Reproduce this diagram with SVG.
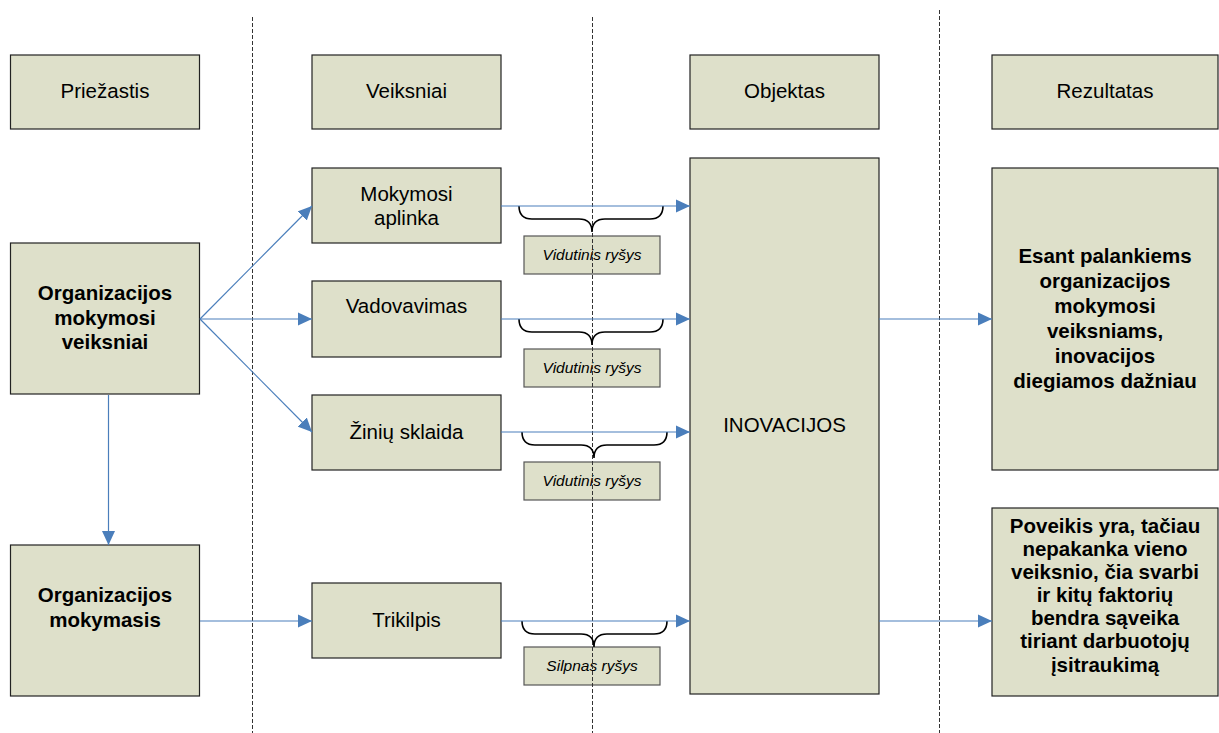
<svg xmlns="http://www.w3.org/2000/svg" width="1219" height="733" viewBox="0 0 1219 733">
  <style>
    .box { fill: #dee0ca; stroke: #222; stroke-width: 1.2; }
    .tag { fill: #dee0ca; stroke: #555; stroke-width: 1.2; }
    .t { font-family: "Liberation Sans", Arial, sans-serif; font-size: 20.5px; fill: #000; text-anchor: middle; }
    .b { font-weight: bold; font-size: 20.5px; }
    .i { font-style: italic; font-size: 15.5px; }
    .div { stroke: #333; stroke-width: 1; stroke-dasharray: 4 2; fill: none; }
    .conn { stroke: #4a7ebb; stroke-width: 1.2; fill: none; marker-end: url(#head); }
    .brace { stroke: #000; stroke-width: 1.6; fill: none; }
  </style>
  <defs>
    <marker id="head" markerUnits="userSpaceOnUse" markerWidth="14" markerHeight="14" viewBox="0 0 14 14" refX="14" refY="7" orient="auto">
      <path d="M0,0.5 L14,7 L0,13.5 Z" fill="#4a7ebb"/>
    </marker>
  </defs>
  <rect width="1219" height="733" fill="#fff"/>

  <!-- column headers -->
  <g id="hdr-priezastis"><rect class="box" x="10.5" y="55" width="189" height="74"/><text class="t" x="105" y="98">Priežastis</text></g>
  <g id="hdr-veiksniai"><rect class="box" x="312" y="55" width="189" height="74"/><text class="t" x="406.5" y="98">Veiksniai</text></g>
  <g id="hdr-objektas"><rect class="box" x="690" y="55" width="189" height="74"/><text class="t" x="784.5" y="98">Objektas</text></g>
  <g id="hdr-rezultatas"><rect class="box" x="992" y="55" width="226" height="74"/><text class="t" x="1105" y="98">Rezultatas</text></g>

  <!-- causes -->
  <g id="org-veiksniai"><rect class="box" x="10.5" y="243" width="189" height="151"/>
    <text class="t b" x="105" y="300">Organizacijos</text>
    <text class="t b" x="105" y="324.5">mokymosi</text>
    <text class="t b" x="105" y="348.5">veiksniai</text></g>
  <g id="org-mokymasis"><rect class="box" x="10.5" y="545" width="189" height="151"/>
    <text class="t b" x="105" y="602">Organizacijos</text>
    <text class="t b" x="105" y="627">mokymasis</text></g>

  <!-- factors -->
  <g id="mokymosi-aplinka"><rect class="box" x="312" y="168" width="189" height="75"/>
    <text class="t" x="406.5" y="201">Mokymosi</text>
    <text class="t" x="406.5" y="225">aplinka</text></g>
  <g id="vadovavimas"><rect class="box" x="312" y="281" width="189" height="76"/>
    <text class="t" x="406.5" y="313">Vadovavimas</text></g>
  <g id="ziniu-sklaida"><rect class="box" x="312" y="395" width="189" height="75"/>
    <text class="t" x="406.5" y="439">Žinių sklaida</text></g>
  <g id="trikilpis"><rect class="box" x="312" y="583" width="189" height="75"/>
    <text class="t" x="406.5" y="627">Trikilpis</text></g>

  <!-- object -->
  <g id="inovacijos"><rect class="box" x="690" y="158" width="189" height="536"/>
    <text class="t" x="784.5" y="432">INOVACIJOS</text></g>

  <!-- results -->
  <g id="rez-esant"><rect class="box" x="992" y="168" width="226" height="302"/>
    <text class="t b" x="1105" y="263">Esant palankiems</text>
    <text class="t b" x="1105" y="288">organizacijos</text>
    <text class="t b" x="1105" y="313">mokymosi</text>
    <text class="t b" x="1105" y="338">veiksniams,</text>
    <text class="t b" x="1105" y="363">inovacijos</text>
    <text class="t b" x="1105" y="388">diegiamos dažniau</text></g>
  <g id="rez-poveikis"><rect class="box" x="992" y="508" width="226" height="188"/>
    <text class="t b" x="1105" y="532.5">Poveikis yra, tačiau</text>
    <text class="t b" x="1105" y="556">nepakanka vieno</text>
    <text class="t b" x="1105" y="579">veiksnio, čia svarbi</text>
    <text class="t b" x="1105" y="602">ir kitų faktorių</text>
    <text class="t b" x="1105" y="625">bendra sąveika</text>
    <text class="t b" x="1105" y="648">tiriant darbuotojų</text>
    <text class="t b" x="1105" y="671.5">įsitraukimą</text></g>

  <!-- relationship strength tags -->
  <g id="rysys-1"><rect class="tag" x="524" y="236" width="136" height="38"/><text class="t i" x="592" y="260">Vidutinis ryšys</text></g>
  <g id="rysys-2"><rect class="tag" x="524" y="349" width="136" height="38"/><text class="t i" x="592" y="373">Vidutinis ryšys</text></g>
  <g id="rysys-3"><rect class="tag" x="524" y="462" width="136" height="38"/><text class="t i" x="592" y="486">Vidutinis ryšys</text></g>
  <g id="rysys-4"><rect class="tag" x="524" y="647" width="136" height="38"/><text class="t i" x="592" y="671">Silpnas ryšys</text></g>

  <!-- column dividers -->
  <g id="dividers">
    <line class="div" x1="252.5" y1="17" x2="252.5" y2="733"/>
    <line class="div" x1="592.5" y1="17" x2="592.5" y2="733"/>
    <line class="div" x1="939.5" y1="10" x2="939.5" y2="733"/>
  </g>

  <!-- braces under factor arrows -->
  <g id="braces">
    <path class="brace" d="M519,206 Q519,219 532,219 L579,219 Q592,219 592,232 Q592,219 605,219 L650,219 Q663,219 663,206"/>
    <path class="brace" d="M519,319 Q519,332 532,332 L579,332 Q592,332 592,345 Q592,332 605,332 L650,332 Q663,332 663,319"/>
    <path class="brace" d="M522,432 Q522,445 535,445 L581,445 Q594,445 594,458 Q594,445 607,445 L654,445 Q667,445 667,432"/>
    <path class="brace" d="M522,621 Q522,634 535,634 L581,634 Q594,634 594,647 Q594,634 607,634 L654,634 Q667,634 667,621"/>
  </g>

  <!-- connectors -->
  <g id="connectors">
    <line class="conn" x1="200" y1="319" x2="312" y2="206"/>
    <line class="conn" x1="200" y1="319" x2="312" y2="319"/>
    <line class="conn" x1="200" y1="319" x2="312" y2="432"/>
    <line class="conn" x1="108.5" y1="395" x2="108.5" y2="545"/>
    <line class="conn" x1="200" y1="621" x2="312" y2="621"/>
    <line class="conn" x1="501" y1="206" x2="690" y2="206"/>
    <line class="conn" x1="501" y1="319" x2="690" y2="319"/>
    <line class="conn" x1="501" y1="432" x2="690" y2="432"/>
    <line class="conn" x1="501" y1="621" x2="690" y2="621"/>
    <line class="conn" x1="879" y1="319" x2="992" y2="319"/>
    <line class="conn" x1="879" y1="621" x2="992" y2="621"/>
  </g>
</svg>
